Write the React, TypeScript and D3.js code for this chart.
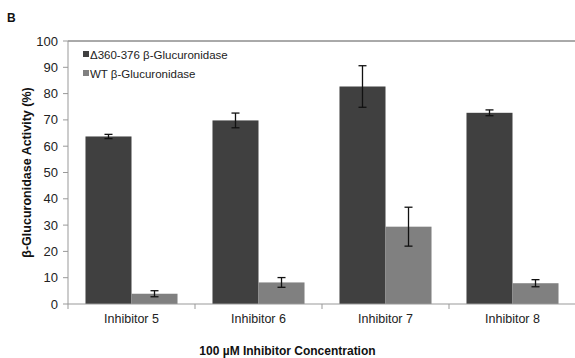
import React, { useEffect, useRef } from 'react'
import * as d3 from 'd3'

const categories = ['Inhibitor 5', 'Inhibitor 6', 'Inhibitor 7', 'Inhibitor 8']
const seriesNames = ['Δ360-376 β-Glucuronidase', 'WT β-Glucuronidase']
const mutantValues = [63.7, 69.8, 82.7, 72.7]
const mutantErrors = [0.8, 2.8, 7.9, 1.1]
const wtValues = [3.9, 8.2, 29.4, 7.9]
const wtErrors = [1.15, 1.85, 7.4, 1.35]
const yTicks = [0, 10, 20, 30, 40, 50, 60, 70, 80, 90, 100]

const App = () => {
  const ref = useRef<SVGSVGElement>(null)

  useEffect(() => {
    const width = 575
    const height = 358
    const left = 68
    const right = 576
    const top = 41
    const bottom = 304
    const font = 'Liberation Sans, Arial, sans-serif'
    const colors = ['#404040', '#808080']

    const svg = d3.select(ref.current)
    svg.selectAll('*').remove()

    const x = d3.scaleBand().domain(categories).range([left, right])
    const y = d3.scaleLinear().domain([0, 100]).range([bottom, top])
    const inner = d3
      .scaleBand()
      .domain(['0', '1'])
      .range([0, x.bandwidth()])
      .paddingOuter(0.38)
      .paddingInner(0)

    // top frame line
    svg
      .append('line')
      .attr('x1', left)
      .attr('x2', width)
      .attr('y1', top)
      .attr('y2', top)
      .attr('stroke', '#555')
      .attr('stroke-width', 1)

    // y axis
    const yAxis = svg.append('g')
    yAxis
      .append('line')
      .attr('x1', left)
      .attr('x2', left)
      .attr('y1', top)
      .attr('y2', bottom)
      .attr('stroke', '#999')
    yAxis
      .selectAll('tick')
      .data(yTicks)
      .enter()
      .append('line')
      .attr('x1', left - 5)
      .attr('x2', left)
      .attr('y1', (d) => y(d))
      .attr('y2', (d) => y(d))
      .attr('stroke', '#999')
    yAxis
      .selectAll('lbl')
      .data(yTicks)
      .enter()
      .append('text')
      .attr('x', left - 10)
      .attr('y', (d) => y(d))
      .attr('dy', '0.35em')
      .attr('text-anchor', 'end')
      .style('font-family', font)
      .style('font-size', '13px')
      .attr('fill', '#222')
      .text((d) => d)

    // bars
    const series = [
      { values: mutantValues, errors: mutantErrors },
      { values: wtValues, errors: wtErrors },
    ]
    series.forEach((s, si) => {
      const g = svg.append('g')
      g.selectAll('rect')
        .data(categories)
        .enter()
        .append('rect')
        .attr('x', (c) => (x(c) as number) + (inner(String(si)) as number))
        .attr('y', (c, i) => y(s.values[i]))
        .attr('width', inner.bandwidth())
        .attr('height', (c, i) => bottom - y(s.values[i]))
        .attr('fill', colors[si])

      const cx = (c: string) =>
        (x(c) as number) + (inner(String(si)) as number) + inner.bandwidth() / 2
      const eb = g
        .selectAll('err')
        .data(categories)
        .enter()
        .append('g')
        .attr('stroke', '#111')
        .attr('stroke-width', 1.3)
      eb.append('line')
        .attr('x1', cx)
        .attr('x2', cx)
        .attr('y1', (c, i) => y(s.values[i] + s.errors[i]))
        .attr('y2', (c, i) => y(s.values[i] - s.errors[i]))
      ;[1, -1].forEach((sign) => {
        eb.append('line')
          .attr('x1', (c) => cx(c) - 4)
          .attr('x2', (c) => cx(c) + 4)
          .attr('y1', (c, i) => y(s.values[i] + sign * s.errors[i]))
          .attr('y2', (c, i) => y(s.values[i] + sign * s.errors[i]))
      })
    })

    // x axis
    const xAxis = svg.append('g')
    xAxis
      .append('line')
      .attr('x1', left)
      .attr('x2', width)
      .attr('y1', bottom)
      .attr('y2', bottom)
      .attr('stroke', '#999')
    xAxis
      .selectAll('tick')
      .data(categories)
      .enter()
      .append('line')
      .attr('x1', (c) => x(c) as number)
      .attr('x2', (c) => x(c) as number)
      .attr('y1', bottom)
      .attr('y2', bottom + 5)
      .attr('stroke', '#999')
    xAxis
      .selectAll('lbl')
      .data(categories)
      .enter()
      .append('text')
      .attr('x', (c) => (x(c) as number) + x.bandwidth() / 2)
      .attr('y', 323)
      .attr('text-anchor', 'middle')
      .style('font-family', font)
      .style('font-size', '12.5px')
      .attr('fill', '#222')
      .text((c) => c)

    // legend
    const legend = svg.append('g')
    seriesNames.forEach((name, i) => {
      const ly = 55 + i * 19
      legend
        .append('rect')
        .attr('x', 83)
        .attr('y', ly - 4)
        .attr('width', 6)
        .attr('height', 6)
        .attr('fill', colors[i])
      legend
        .append('text')
        .attr('x', 90)
        .attr('y', ly)
        .attr('dy', '0.35em')
        .style('font-family', font)
        .style('font-size', '11.5px')
        .attr('fill', '#222')
        .text(name)
    })

    // titles
    svg
      .append('text')
      .attr('transform', `translate(31,${(top + bottom) / 2}) rotate(-90)`)
      .attr('text-anchor', 'middle')
      .style('font-family', font)
      .style('font-size', '12.5px')
      .style('font-weight', 'bold')
      .attr('fill', '#111')
      .text('β-Glucuronidase Activity (%)')

    svg
      .append('text')
      .attr('x', width / 2)
      .attr('y', 355)
      .attr('text-anchor', 'middle')
      .style('font-family', font)
      .style('font-size', '12px')
      .style('font-weight', 'bold')
      .attr('fill', '#111')
      .text('100 µM Inhibitor Concentration')

    svg
      .append('text')
      .attr('x', 7)
      .attr('y', 22)
      .style('font-family', font)
      .style('font-size', '12px')
      .style('font-weight', 'bold')
      .attr('fill', '#111')
      .text('B')
  }, [])

  return (
    <svg
      ref={ref}
      width={575}
      height={358}
      style={{ position: 'absolute', left: 0, top: 0, background: '#fff' }}
    />
  )
}

export default App
